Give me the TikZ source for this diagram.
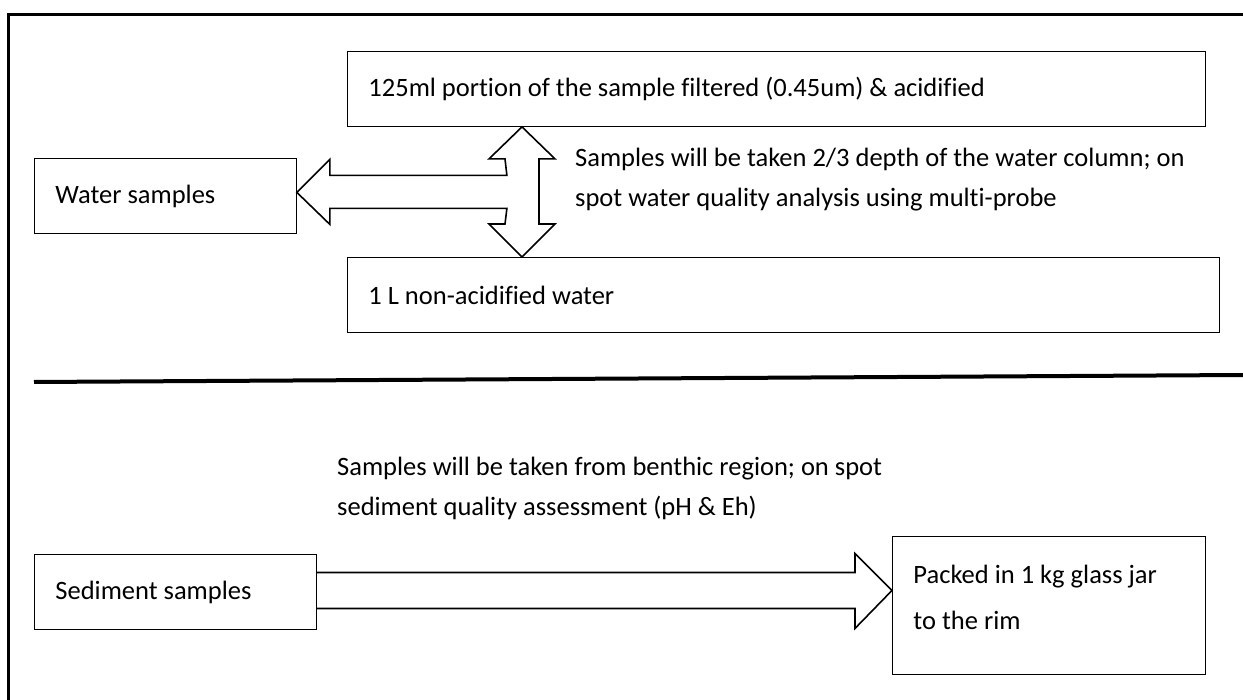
\documentclass[tikz,border=0pt]{standalone}
\usepackage{fontspec}
\setmainfont{Carlito}[Ligatures=NoCommon]
\usepackage{tikz}
\usetikzlibrary{calc}

\begin{document}
\begin{tikzpicture}[x=1pt, y=-1pt,
    every node/.style={font=\fontsize{26.5}{40}\selectfont},
    box/.style={draw, line width=0.9pt, anchor=north west, align=flush left,
        inner xsep=21pt, inner ysep=0pt, minimum height=75pt},
    descr/.style={anchor=west, align=left, inner sep=0pt},
    blockarrow/.style={draw, line width=1.6pt, line join=miter}]
    \useasboundingbox (0,0) rectangle (1243,700);

    % moldura
    \draw[line width=3pt] (1243,15) -- (8.5,15) -- (8.5,700);

    % amostras de agua
    \node[box, text width=816pt] (filt) at (347,51)
        {125ml portion of the sample filtered (0.45um) \& acidified};
    \node[box, text width=220pt] (water) at (34,158) {Water samples};
    \node[box, text width=830pt] (nonacid) at (347,257) {1 L non-acidified water};
    \node[descr] (wdesc) at (575,180)
        {Samples will be taken 2/3 depth of the water column; on\\
         spot water quality analysis using multi-probe};

    % seta em T
    \coordinate (ax) at (522,0);
    \coordinate (wtip) at ($(water.east)+(0,-3.5)$);
    \draw[blockarrow]
        (filt.south -| ax) -- ++(33,32) -- ++(-16,0)
        -- ($(nonacid.north -| ax)+(17,-33)$) -- ++(16,0)
        -- (nonacid.north -| ax) -- ++(-33,-33) -- ++(16,0)
        -- ($(wtip)+(210,16)$) -- ($(wtip)+(33,16)$) -- ++(0,16)
        -- (wtip) -- ($(wtip)+(33,-33)$) -- ++(0,16)
        -- ($(wtip)+(210,-17)$)
        -- ($(filt.south -| ax)+(-17,32)$) -- ++(-16,0) -- cycle;

    % separador
    \draw[line width=4pt] (34,382) -- (1243,375);

    % amostras de sedimento
    \node[box, text width=240pt] (sed) at (34,554) {Sediment samples};
    \node[box, text width=271pt, minimum height=138pt, text depth=62pt,
        font=\fontsize{26.5}{46}\selectfont] (jar) at (892,536)
        {Packed in 1 kg glass jar\\to the rim};
    \node[descr] (sdesc) at (337,488)
        {Samples will be taken from benthic region; on spot\\
         sediment quality assessment (pH \& Eh)};

    % seta para o frasco
    \coordinate (stip) at ($(jar.west |- sed.east)+(0,-1.5)$);
    \draw[blockarrow]
        ($(sed.east)+(0,-19.5)$) -- ($(stip)+(-37,-18)$) -- ($(stip)+(-37,-37)$)
        -- (stip) -- ($(stip)+(-37,38)$) -- ($(stip)+(-37,18)$)
        -- ($(sed.east)+(0,16.5)$);

\end{tikzpicture}
\end{document}
